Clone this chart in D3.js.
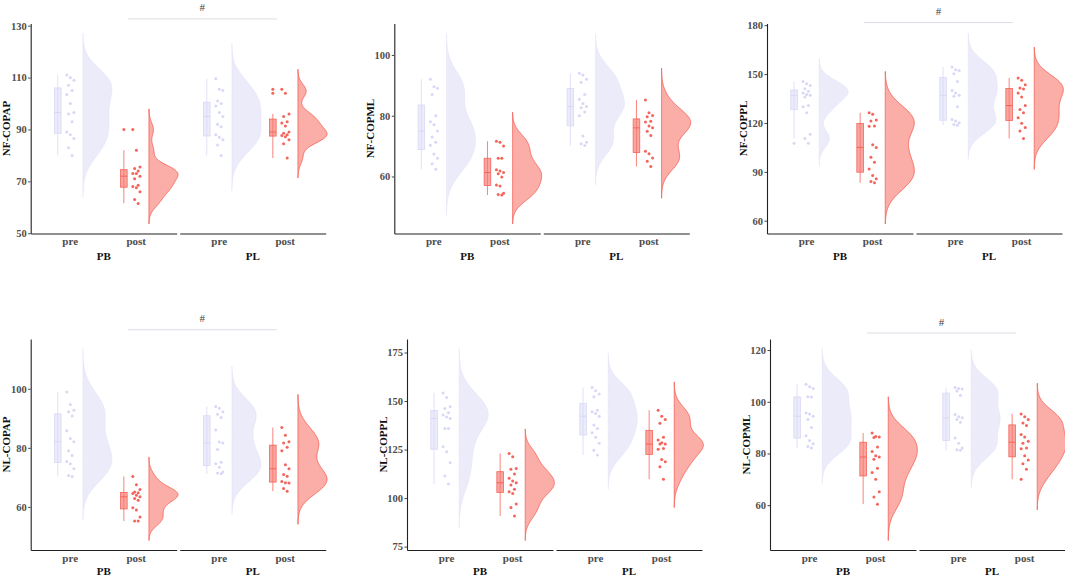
<!DOCTYPE html>
<html>
<head>
<meta charset="utf-8">
<script src="https://cdn.jsdelivr.net/npm/d3@7"></script>
<style>
body { margin: 0; background: #fff; }
svg text { font-family: "Liberation Serif", "Times New Roman", serif; font-weight: bold; }
svg text.sig { font-weight: normal; }
</style>
</head>
<body>
<div id="chart-area"></div>
<script>
var panelTitles = ["NF-COPAP", "NF-COPML", "NF-COPPL", "NL-COPAP", "NL-COPPL", "NL-COPML"];
var groups = ["PB", "PL"];
var times = ["pre", "post"];
var yTicks = [
    [50, 70, 90, 110, 130],
    [60, 80, 100],
    [60, 90, 120, 150, 180],
    [60, 80, 100],
    [75, 100, 125, 150, 175],
    [60, 80, 100, 120]
];
// "#" bar height in data units, null where there is no mark
var sigLevels = [132.6, null, 181.6, 120, null, 126.6];

// each panel: PB pre, PB post, PL pre, PL post
var nfCopap = [
    [111, 110, 109, 107, 105, 103.5, 100, 96.5, 96, 93, 89, 88, 86.5, 83, 80],
    [90, 82, 75.5, 75, 74, 73, 73, 72, 71, 68.5, 68, 67.5, 66, 63, 61.5],
    [109.5, 105.5, 105, 101, 100, 99, 96.5, 95, 92, 91, 88, 87, 86, 84, 80],
    [105.5, 104, 96, 95, 93, 92.5, 91.3, 89, 88.5, 88, 87.7, 87.2, 86, 84.5, 79]
];
var nfCopml = [
    [92, 89.5, 89, 87, 80, 78, 77, 75, 73, 71.3, 70.3, 67.4, 66, 64.2, 62.4],
    [71.6, 71.3, 70, 66, 66, 62.2, 61.8, 61.3, 60.9, 59.8, 57.2, 56.9, 54.5, 54.1, 53.9],
    [94, 93.4, 92, 91, 87, 85.4, 84, 83, 82.6, 81.2, 80, 73.3, 71.3, 70.8, 70.2],
    [85.2, 81, 80.1, 79.7, 78.2, 77.9, 76.6, 76, 74.9, 73.5, 68.3, 67.5, 66.1, 65, 63.3]
];
var nfCoppl = [
    [145.5, 144, 143, 141, 139.5, 138.4, 137.4, 137, 136, 130.7, 130, 126.3, 113, 110.5, 107.6],
    [126.3, 125.3, 121.8, 121.2, 118.2, 118, 106.6, 105, 98.9, 95.9, 91.8, 87.8, 85.7, 84.1, 83.3],
    [154.3, 152.6, 152.2, 150.2, 145.5, 140, 138.4, 137, 136.4, 130, 122.2, 121.2, 120.2, 119, 118.6],
    [147.6, 146.2, 143.5, 141.5, 140.9, 138.4, 136, 130.7, 128.3, 126.3, 123.2, 119.8, 117.2, 115.1, 110.5]
];
var nlCopap = [
    [98.9, 94.7, 92.7, 92.2, 90.8, 85.8, 83.2, 82.1, 79, 77.4, 75.4, 74.6, 72.9, 70.6, 70.3],
    [70.3, 67.5, 65.9, 65, 64.8, 64.5, 63.9, 63.4, 62.8, 62.2, 59.7, 58.9, 56.6, 55.2, 55.2],
    [94, 93.4, 92.2, 91.4, 90.3, 86, 82, 81.6, 79.4, 75.1, 74.6, 73.4, 71.8, 71.5, 71.2],
    [86.9, 84.3, 82.1, 81.6, 80.2, 79, 74.3, 72.9, 71, 70.4, 68.6, 68.2, 68.1, 66.2, 65.3]
];
var nlCoppl = [
    [154.2, 151.8, 147, 146.2, 144, 142.8, 141.8, 141, 135.9, 135.9, 126.5, 123.9, 118.2, 111.4, 107.2],
    [123, 121.3, 115.3, 114.8, 112.4, 110.2, 108.8, 107.9, 106.7, 104.5, 103.3, 102.4, 97, 95.2, 90.8],
    [157, 155.3, 153.6, 152.2, 145.3, 144.5, 143.6, 142.2, 137.6, 135.9, 133.7, 131.3, 128.2, 124.7, 122.2],
    [145.3, 142.2, 140.5, 138.5, 131.3, 129.9, 128.5, 127.8, 127.8, 125.6, 125.1, 119.9, 118.7, 116.2, 109.7]
];
var nlCopml = [
    [106.8, 105.8, 105.1, 101.9, 101.8, 95.7, 95.3, 94.4, 93.1, 90, 86.9, 85, 83.8, 82.7, 82.1],
    [87.9, 86.6, 86.4, 86.2, 82.5, 80.8, 79.1, 78.6, 77.8, 74.3, 72.6, 70, 65.2, 63.2, 60.4],
    [105.5, 105.1, 104.9, 104.2, 102.5, 95.1, 94.2, 93.8, 93.1, 92.1, 86, 84, 82.1, 81.4, 81.2],
    [95.3, 94.2, 93.1, 91.8, 90.8, 87.3, 86.4, 84.7, 84, 82.1, 81.8, 79.1, 77.5, 76, 73.9, 70]
];
var panelValues = [nfCopap, nfCopml, nfCoppl, nlCopap, nlCoppl, nlCopml];

var colors = { pre: "#D8D8F6", post: "#F5645A" };

// where each panel's y axis sits on the page
var panelLayout = [
    { left: 30.7, top: 23.5, bottom: 233.5, strip: 26.5 },
    { left: 394.3, top: 23.5, bottom: 233.5, strip: 26.5 },
    { left: 767, top: 23.5, bottom: 233.5, strip: 26.5 },
    { left: 30.7, top: 339, bottom: 550, strip: 24.5 },
    { left: 407, top: 339, bottom: 550, strip: 24.5 },
    { left: 770, top: 339, bottom: 550, strip: 24.5 }
];
var facetWidth = 146;
var facetGap = 3;
var boxOffset = -0.18, boxWidth = 0.1;
var violinOffset = 0.2, violinWidth = 0.44;

function bandwidth(values) {
    // R's bw.nrd0
    var sd = d3.deviation(values);
    var iqr = d3.quantile(values, 0.75) - d3.quantile(values, 0.25);
    var lo = Math.min(sd, iqr / 1.34);
    return 0.9 * lo * Math.pow(values.length, -0.2);
}

function densityCurve(values) {
    var bw = bandwidth(values);
    var lo = d3.min(values) - 3 * bw;
    var hi = d3.max(values) + 3 * bw;
    var curve = d3.range(200).map(function (i) {
        var y = lo + (hi - lo) * i / 199;
        var d = d3.sum(values, function (v) {
            var u = (y - v) / bw;
            return Math.exp(-0.5 * u * u);
        });
        return { y: y, d: d };
    });
    var top = d3.max(curve, function (p) { return p.d; });
    curve.forEach(function (p) { p.d = p.d / top; });
    return curve;
}

function boxStats(values) {
    var sorted = values.slice().sort(d3.ascending);
    var q1 = d3.quantileSorted(sorted, 0.25);
    var med = d3.quantileSorted(sorted, 0.5);
    var q3 = d3.quantileSorted(sorted, 0.75);
    var iqr = q3 - q1;
    var inside = sorted.filter(function (v) { return v >= q1 - 1.5 * iqr && v <= q3 + 1.5 * iqr; });
    return {
        q1: q1, med: med, q3: q3,
        lo: d3.min(inside), hi: d3.max(inside),
        outliers: sorted.filter(function (v) { return v < q1 - 1.5 * iqr || v > q3 + 1.5 * iqr; })
    };
}

var svg = d3.select("#chart-area")
    .append("svg")
    .attr("width", 1065)
    .attr("height", 576);

panelValues.forEach(function (series, pi) {
    var lay = panelLayout[pi];
    var g = svg.append("g");

    var curves = series.map(densityCurve);
    var lo = d3.min(curves, function (c) { return c[0].y; });
    var hi = d3.max(curves, function (c) { return c[c.length - 1].y; });
    var pad = (hi - lo) * 0.05;
    var y = d3.scaleLinear()
        .domain([lo - pad, hi + pad])
        .range([lay.bottom, lay.top]);

    var xScales = groups.map(function (grp, gi) {
        var x0 = lay.left + gi * (facetWidth + facetGap);
        return d3.scaleLinear().domain([0.41, 2.62]).range([x0, x0 + facetWidth]);
    });

    groups.forEach(function (grp, gi) {
        var x = xScales[gi];
        var unit = x(1) - x(0);

        times.forEach(function (time, ti) {
            var values = series[gi * 2 + ti];
            var col = colors[time];
            var pos = ti + 1;
            var isPre = time === "pre";

            // half violin
            var vx = x(pos + violinOffset);
            var area = d3.area()
                .y(function (p) { return y(p.y); })
                .x0(vx)
                .x1(function (p) { return vx + p.d * violinWidth * unit; });
            g.append("path")
                .datum(curves[gi * 2 + ti])
                .attr("d", area)
                .attr("fill", isPre ? col : "#F8766D")
                .attr("fill-opacity", isPre ? 0.5 : 0.6)
                .attr("stroke", col)
                .attr("stroke-opacity", isPre ? 0.35 : 1)
                .attr("stroke-width", 0.9);

            // box plot
            var s = boxStats(values);
            var bx = x(pos + boxOffset);
            var bw = boxWidth * unit;
            g.append("line")
                .attr("x1", bx).attr("x2", bx)
                .attr("y1", y(s.hi)).attr("y2", y(s.lo))
                .attr("stroke", col).attr("stroke-width", 0.8);
            g.append("rect")
                .attr("x", bx - bw / 2)
                .attr("y", y(s.q3))
                .attr("width", bw)
                .attr("height", y(s.q1) - y(s.q3))
                .attr("fill", isPre ? col : "#F8766D")
                .attr("fill-opacity", isPre ? 0.5 : 0.65)
                .attr("stroke", col)
                .attr("stroke-width", 0.8);
            g.append("line")
                .attr("x1", bx - bw / 2).attr("x2", bx + bw / 2)
                .attr("y1", y(s.med)).attr("y2", y(s.med))
                .attr("stroke", col).attr("stroke-width", 1);
            g.selectAll(null)
                .data(s.outliers)
                .enter().append("circle")
                .attr("cx", bx)
                .attr("cy", function (v) { return y(v); })
                .attr("r", 1.5)
                .attr("fill", col);

            // jittered points, spread by index
            g.selectAll(null)
                .data(values)
                .enter().append("circle")
                .attr("cx", function (v, i) { return x(pos + 0.01 + ((i * 7) % 5 - 2) * 0.027); })
                .attr("cy", function (v) { return y(v); })
                .attr("r", 1.5)
                .attr("fill", col);
        });

        // x axis for this facet
        var xAxis = g.append("g")
            .attr("transform", "translate(0," + lay.bottom + ")")
            .call(d3.axisBottom(x)
                .tickValues([1, 2])
                .tickFormat(function (d) { return times[d - 1]; })
                .tickSize(0)
                .tickSizeOuter(0)
                .tickPadding(4));
        xAxis.select(".domain").attr("stroke", "#222").attr("stroke-width", 1.1);
        xAxis.selectAll("text")
            .style("font-size", "11px")
            .attr("fill", "#4d4d4d");

        g.append("text")
            .attr("x", (x.range()[0] + x.range()[1]) / 2)
            .attr("y", lay.bottom + lay.strip)
            .attr("text-anchor", "middle")
            .style("font-size", "11px")
            .attr("fill", "#111")
            .text(grp);
    });

    // y axis
    var yAxis = g.append("g")
        .attr("transform", "translate(" + lay.left + ",0)")
        .call(d3.axisLeft(y)
            .tickValues(yTicks[pi])
            .tickSize(2.5)
            .tickSizeOuter(0)
            .tickPadding(1.5));
    yAxis.select(".domain").attr("stroke", "#222").attr("stroke-width", 1.1);
    yAxis.selectAll(".tick line").attr("stroke", "#444");
    yAxis.selectAll("text")
        .style("font-size", "10.5px")
        .attr("fill", "#4d4d4d");

    g.append("text")
        .attr("transform", "translate(" + (lay.left - 24.5) + "," + ((lay.top + lay.bottom) / 2) + ") rotate(-90)")
        .attr("text-anchor", "middle")
        .attr("dominant-baseline", "central")
        .style("font-size", "11px")
        .attr("fill", "#111")
        .text(panelTitles[pi]);

    // significance bar between the two post groups
    if (sigLevels[pi] !== null) {
        var sx1 = xScales[0](1.88);
        var sx2 = xScales[1](1.88);
        var sy = y(sigLevels[pi]);
        g.append("line")
            .attr("x1", sx1).attr("x2", sx2)
            .attr("y1", sy).attr("y2", sy)
            .attr("stroke", "#dddde6")
            .attr("stroke-width", 1);
        g.append("text")
            .attr("class", "sig")
            .attr("x", (sx1 + sx2) / 2)
            .attr("y", sy - 7.5)
            .attr("text-anchor", "middle")
            .style("font-size", "11px")
            .attr("fill", "#444")
            .text("#");
    }
});
</script>
</body>
</html>
